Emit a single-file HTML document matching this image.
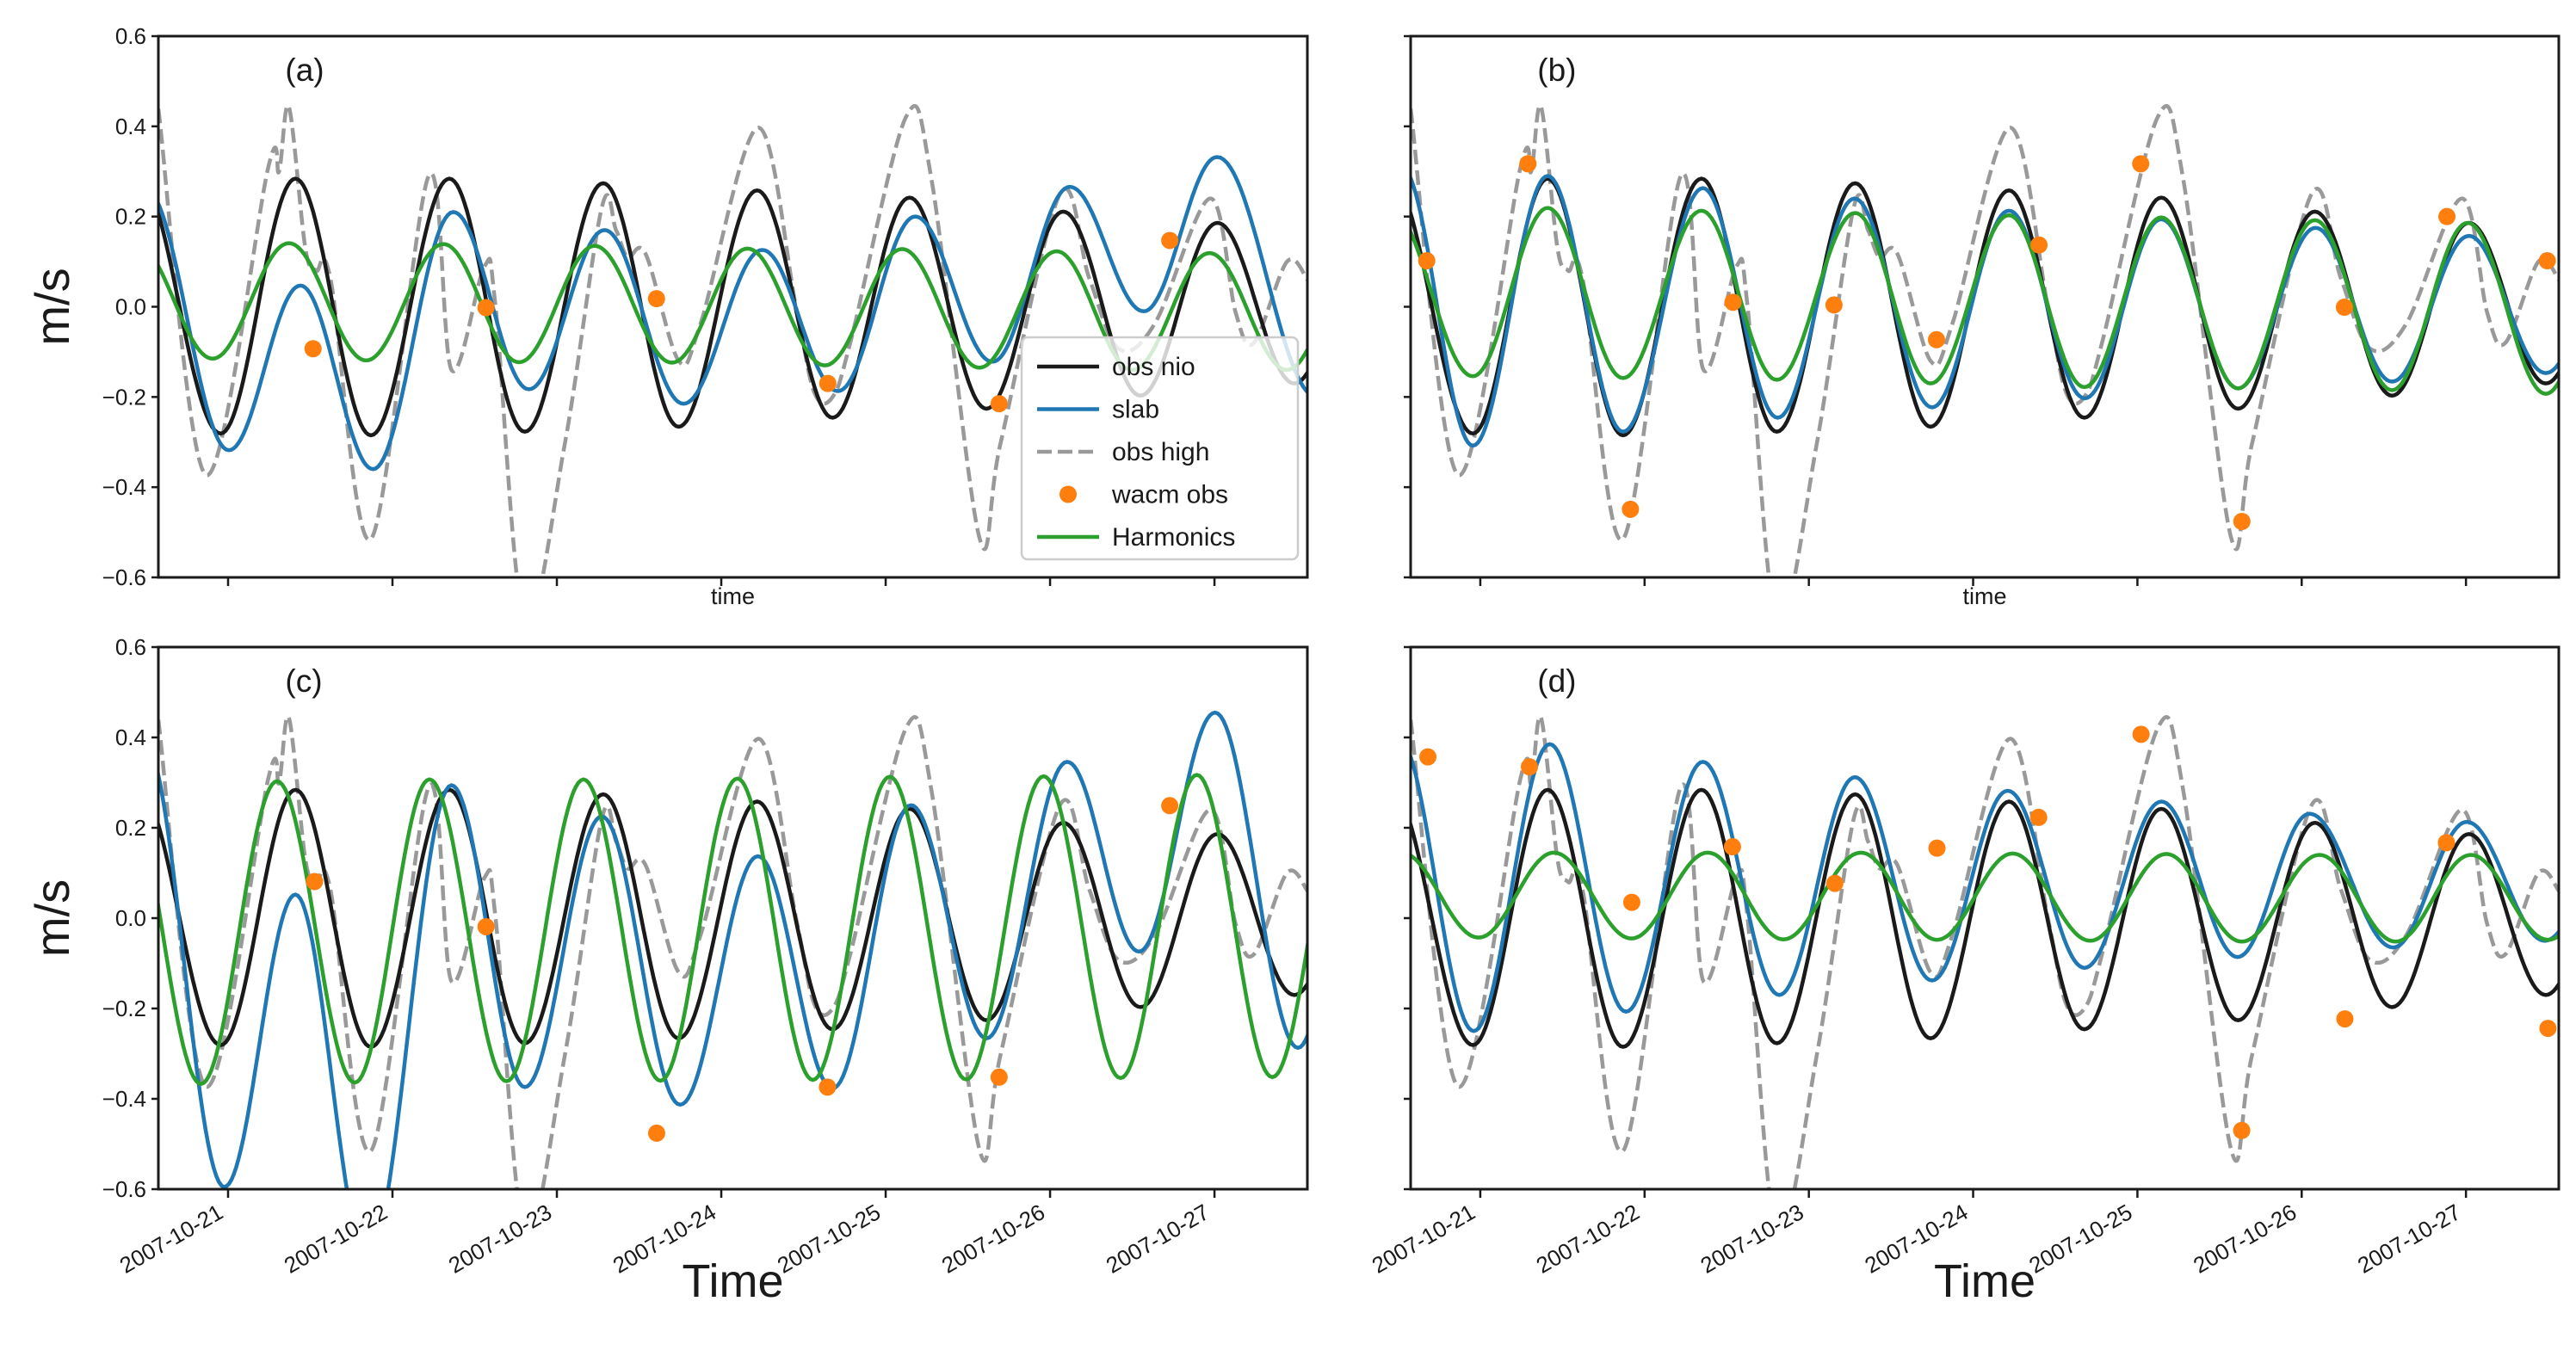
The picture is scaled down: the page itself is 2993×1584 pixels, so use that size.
<!DOCTYPE html>
<html><head><meta charset="utf-8"><style>
html,body{margin:0;padding:0;background:#fff}
svg{display:block;font-family:"Liberation Sans","DejaVu Sans",sans-serif}
</style></head><body>
<svg id="fig" width="2993" height="1584" viewBox="0 0 2993 1584" xmlns="http://www.w3.org/2000/svg"></svg>
<script>
// ---- shared data (time in days of Oct 2007, value m/s) ----
const tickDays = [21,22,23,24,25,26,27];
const tickLabels = ["2007-10-21","2007-10-22","2007-10-23","2007-10-24","2007-10-25","2007-10-26","2007-10-27"];
const yTicks = [0.6,0.4,0.2,0.0,-0.2,-0.4,-0.6];
const yTickLabels = ["0.6","0.4","0.2","0.0","\u22120.2","\u22120.4","\u22120.6"];
// obs nio (extrema)
const nioT = [20.45,20.955,21.41,21.869,22.346,22.805,23.282,23.741,24.218,24.677,25.145,25.613,26.08,26.55,27.018,27.486,27.95];
const nioV = [0.29,-0.281,0.284,-0.285,0.284,-0.277,0.274,-0.266,0.258,-0.246,0.242,-0.226,0.211,-0.197,0.186,-0.17,0.17];
// obs high (points)
const highT = [20.576,20.866,21.245,21.31,21.37,21.47,21.535,21.624,21.869,22.22,22.359,22.56,22.627,22.805,23.05,23.273,23.36,23.43,23.54,23.741,23.875,24.223,24.455,24.566,24.677,24.789,25.123,25.28,25.569,25.70,26.06,26.238,26.416,26.639,26.973,27.129,27.24,27.441,27.566];
const highV = [0.439,-0.373,0.31,0.30,0.443,0.13,0.08,0.06,-0.515,0.29,-0.14,0.09,0.0,-0.7,-0.3,0.22,0.17,0.11,0.117,-0.12,-0.036,0.397,0.0,-0.19,-0.2,-0.074,0.42,0.28,-0.51,-0.3,0.25,0.064,-0.093,-0.036,0.24,-0.013,-0.08,0.10,0.06];
// panel a
const slabAT = [20.5,21.005,21.44,21.882,22.37,22.83,23.29,23.77,24.25,24.71,25.18,25.65,26.12,26.57,27.016,27.62];
const slabAV = [0.26,-0.318,0.047,-0.36,0.21,-0.183,0.17,-0.215,0.126,-0.187,0.2,-0.122,0.266,-0.01,0.332,-0.2];
const harmAT = [20.44,20.906,21.37,21.84,22.31,22.77,23.23,23.70,24.16,24.63,25.10,25.57,26.04,26.50,26.97,27.44,27.9];
const harmAV = [0.14,-0.115,0.141,-0.119,0.139,-0.123,0.135,-0.124,0.129,-0.13,0.128,-0.135,0.123,-0.14,0.119,-0.14,0.12];
const wacmAT = [21.517,22.569,23.606,24.648,25.69,26.728];
const wacmAV = [-0.093,-0.002,0.018,-0.17,-0.215,0.147];
// panel b
const slabBT = [20.52,20.955,21.41,21.869,22.355,22.81,23.278,23.75,24.218,24.68,25.145,25.613,26.085,26.55,27.018,27.486,27.95];
const slabBV = [0.31,-0.308,0.29,-0.277,0.263,-0.246,0.24,-0.223,0.213,-0.203,0.194,-0.181,0.175,-0.166,0.157,-0.147,0.15];
const harmBT = [20.45,20.955,21.41,21.869,22.346,22.805,23.282,23.741,24.218,24.677,25.145,25.613,26.08,26.55,27.01,27.486,27.95];
const harmBV = [0.22,-0.154,0.219,-0.158,0.213,-0.162,0.208,-0.17,0.203,-0.178,0.198,-0.181,0.192,-0.185,0.186,-0.193,0.18];
const wacmBT = [20.674,21.29,21.914,22.538,23.153,23.777,24.401,25.02,25.636,26.26,26.884,27.495];
const wacmBV = [0.102,0.317,-0.449,0.01,0.004,-0.073,0.137,0.317,-0.476,-0.001,0.2,0.102];
// panel c
const slabCT = [20.49,20.977,21.41,21.847,22.359,22.805,23.273,23.75,24.223,24.677,25.154,25.613,26.104,26.541,27.004,27.508,27.97];
const slabCV = [0.39,-0.595,0.052,-0.75,0.294,-0.374,0.225,-0.413,0.137,-0.377,0.25,-0.266,0.346,-0.074,0.455,-0.287,0.4];
const harmCT = [20.37,20.835,21.298,21.771,22.225,22.694,23.162,23.63,24.098,24.557,25.025,25.489,25.961,26.429,26.893,27.352,27.82];
const harmCV = [0.3,-0.367,0.303,-0.364,0.307,-0.361,0.307,-0.36,0.309,-0.358,0.313,-0.357,0.314,-0.354,0.317,-0.352,0.32];
const wacmCT = [21.526,22.569,23.607,24.646,25.69,26.728];
const wacmCV = [0.081,-0.019,-0.476,-0.374,-0.352,0.249];
// panel d
const slabDT = [20.5,20.96,21.423,21.887,22.355,22.82,23.28,23.75,24.21,24.678,25.146,25.61,26.048,26.557,27.005,27.48,27.95];
const slabDV = [0.4,-0.25,0.385,-0.207,0.346,-0.17,0.312,-0.138,0.282,-0.11,0.258,-0.086,0.231,-0.065,0.213,-0.05,0.2];
const harmDT = [20.52,20.99,21.448,21.92,22.385,22.845,23.317,23.78,24.24,24.713,25.176,25.635,26.108,26.572,27.03,27.5,27.97];
const harmDV = [0.145,-0.043,0.145,-0.045,0.145,-0.047,0.145,-0.048,0.143,-0.05,0.142,-0.052,0.14,-0.052,0.14,-0.048,0.14];
const wacmDT = [20.681,21.299,21.922,22.535,23.158,23.78,24.399,25.022,25.635,26.263,26.881,27.499];
const wacmDV = [0.357,0.335,0.035,0.158,0.077,0.155,0.223,0.407,-0.47,-0.223,0.167,-0.244];

const NS = "http://www.w3.org/2000/svg";
const svg = document.getElementById('fig');
function mk(tag, attrs, parent){const e=document.createElementNS(NS,tag);for(const k in attrs)e.setAttribute(k,attrs[k]);(parent||svg).appendChild(e);return e;}

const T0 = 20.576, T1 = 27.565;
const panels = [
 {id:'a', x0:184, x1:1519, y0:42, y1:671, left:true, bottom:false, slabT:slabAT, slabV:slabAV, harmT:harmAT, harmV:harmAV, wT:wacmAT, wV:wacmAV},
 {id:'b', x0:1639, x1:2973, y0:42, y1:671, left:false, bottom:false, slabT:slabBT, slabV:slabBV, harmT:harmBT, harmV:harmBV, wT:wacmBT, wV:wacmBV},
 {id:'c', x0:184, x1:1519, y0:752, y1:1382, left:true, bottom:true, slabT:slabCT, slabV:slabCV, harmT:harmCT, harmV:harmCV, wT:wacmCT, wV:wacmCV},
 {id:'d', x0:1639, x1:2973, y0:752, y1:1382, left:false, bottom:true, slabT:slabDT, slabV:slabDV, harmT:harmDT, harmV:harmDV, wT:wacmDT, wV:wacmDV}
];

function cosPath(T,V,sx,sy){
  let d='';
  for(let i=0;i<T.length-1;i++){
    for(let k=0;k<=30;k++){
      if(i>0&&k===0)continue;
      const f=k/30, w=(1-Math.cos(Math.PI*f))/2;
      const t=T[i]+(T[i+1]-T[i])*f, v=V[i]+(V[i+1]-V[i])*w;
      d+=(d?'L':'M')+sx(t).toFixed(1)+' '+sy(v).toFixed(1);
    }
  }
  return d;
}
function crPath(T,V,sx,sy){
  const P=T.map((t,i)=>[sx(t),sy(V[i])]);
  let d='M'+P[0][0].toFixed(1)+' '+P[0][1].toFixed(1);
  for(let i=0;i<P.length-1;i++){
    const p0=P[Math.max(0,i-1)],p1=P[i],p2=P[i+1],p3=P[Math.min(P.length-1,i+2)];
    const c1=[p1[0]+(p2[0]-p0[0])/6,p1[1]+(p2[1]-p0[1])/6];
    const c2=[p2[0]-(p3[0]-p1[0])/6,p2[1]-(p3[1]-p1[1])/6];
    d+='C'+c1[0].toFixed(1)+' '+c1[1].toFixed(1)+' '+c2[0].toFixed(1)+' '+c2[1].toFixed(1)+' '+p2[0].toFixed(1)+' '+p2[1].toFixed(1);
  }
  return d;
}

const defs = mk('defs',{});
panels.forEach(p=>{
  const sx=t=>p.x0+(t-T0)/(T1-T0)*(p.x1-p.x0);
  const sy=v=>p.y1-(v+0.6)/1.2*(p.y1-p.y0);
  const cp=mk('clipPath',{id:'clip'+p.id},defs);
  mk('rect',{x:p.x0,y:p.y0,width:p.x1-p.x0,height:p.y1-p.y0},cp);
  const g=mk('g',{});
  
  
  const plot=mk('g',{'clip-path':'url(#clip'+p.id+')'},g);
  const high=mk('path',{d:crPath(highT,highV,sx,sy),fill:'none',stroke:'#999999','stroke-width':4.5,'stroke-dasharray':'17 7'},plot);
  
  
  const nio=mk('path',{d:cosPath(nioT,nioV,sx,sy),fill:'none',stroke:'#1a1a1a','stroke-width':4.5},plot);
  
  
  const slab=mk('path',{d:cosPath(p.slabT,p.slabV,sx,sy),fill:'none',stroke:'#1f77b4','stroke-width':4.5},plot);
  
  
  const harm=mk('path',{d:cosPath(p.harmT,p.harmV,sx,sy),fill:'none',stroke:'#2ca02c','stroke-width':4.5},plot);
  
  
  p.wT.forEach((t,i)=>{
    const c=mk('circle',{cx:sx(t),cy:sy(p.wV[i]),r:10,fill:'#ff7f0e'},plot);
    
    
  });
  const frame=mk('rect',{x:p.x0,y:p.y0,width:p.x1-p.x0,height:p.y1-p.y0,fill:'none',stroke:'#1a1a1a','stroke-width':3},g);
  
  
  yTicks.forEach((v,i)=>{
    mk('line',{x1:p.x0-8,x2:p.x0,y1:sy(v),y2:sy(v),stroke:'#1a1a1a','stroke-width':2.5},g);
    if(p.left){
      const tl=mk('text',{x:p.x0-14,y:sy(v)+9,'text-anchor':'end','font-size':26,fill:'#1a1a1a'},g);
      tl.textContent=yTickLabels[i];
      
      
    }
  });
  tickDays.forEach((d,i)=>{
    const x=sx(d);
    mk('line',{x1:x,x2:x,y1:p.y1,y2:p.y1+10,stroke:'#1a1a1a','stroke-width':2.5},g);
    if(p.bottom){
      const tl=mk('text',{x:x-4,y:p.y1+32,'text-anchor':'end','font-size':26,fill:'#1a1a1a',transform:'rotate(-30 '+(x-4)+' '+(p.y1+32)+')'},g);
      tl.textContent=tickLabels[i];
      
      
    }
  });
  const pl=mk('text',{x:sx(21.4)-10,y:p.y0+52,'font-size':37,fill:'#1a1a1a'},g);
  pl.textContent='('+p.id+')';
  
  
  const cx=(p.x0+p.x1)/2;
  if(p.bottom){
    const xl=mk('text',{x:cx,y:1507,'text-anchor':'middle','font-size':54,fill:'#1a1a1a'},g);
    xl.textContent='Time';
    
    
  } else {
    const xl=mk('text',{x:cx,y:702,'text-anchor':'middle','font-size':27,fill:'#1a1a1a'},g);
    xl.textContent='time';
    
    
  }
  if(p.left){
    const cy=(p.y0+p.y1)/2;
    const yl=mk('text',{x:80,y:cy,'text-anchor':'middle','font-size':56,fill:'#1a1a1a',transform:'rotate(-90 80 '+cy+')'},g);
    yl.textContent='m/s';
    
    
  }
});

// legend in panel a
const lg=mk('g',{});


mk('rect',{x:1187,y:392,width:321,height:258,rx:7,fill:'#ffffff','fill-opacity':0.8,stroke:'#cccccc','stroke-width':2.5},lg);
const legNames=['obs nio','slab','obs high','wacm obs','Harmonics'];
const legColors=['#1a1a1a','#1f77b4','#999999','#ff7f0e','#2ca02c'];
legNames.forEach((n,i)=>{
  const y=426+i*49.5;
  const e=mk('g',{},lg);
  
  
  if(i===3) mk('circle',{cx:1241,cy:y,r:10,fill:legColors[i]},e);
  else mk('line',{x1:1205,x2:1277,y1:y,y2:y,stroke:legColors[i],'stroke-width':4.5,'stroke-dasharray':i===2?'17 7':'none'},e);
  const t=mk('text',{x:1292,y:y+10,'font-size':30,fill:'#1a1a1a'},e);
  t.textContent=n;
});
</script>
</body></html>
